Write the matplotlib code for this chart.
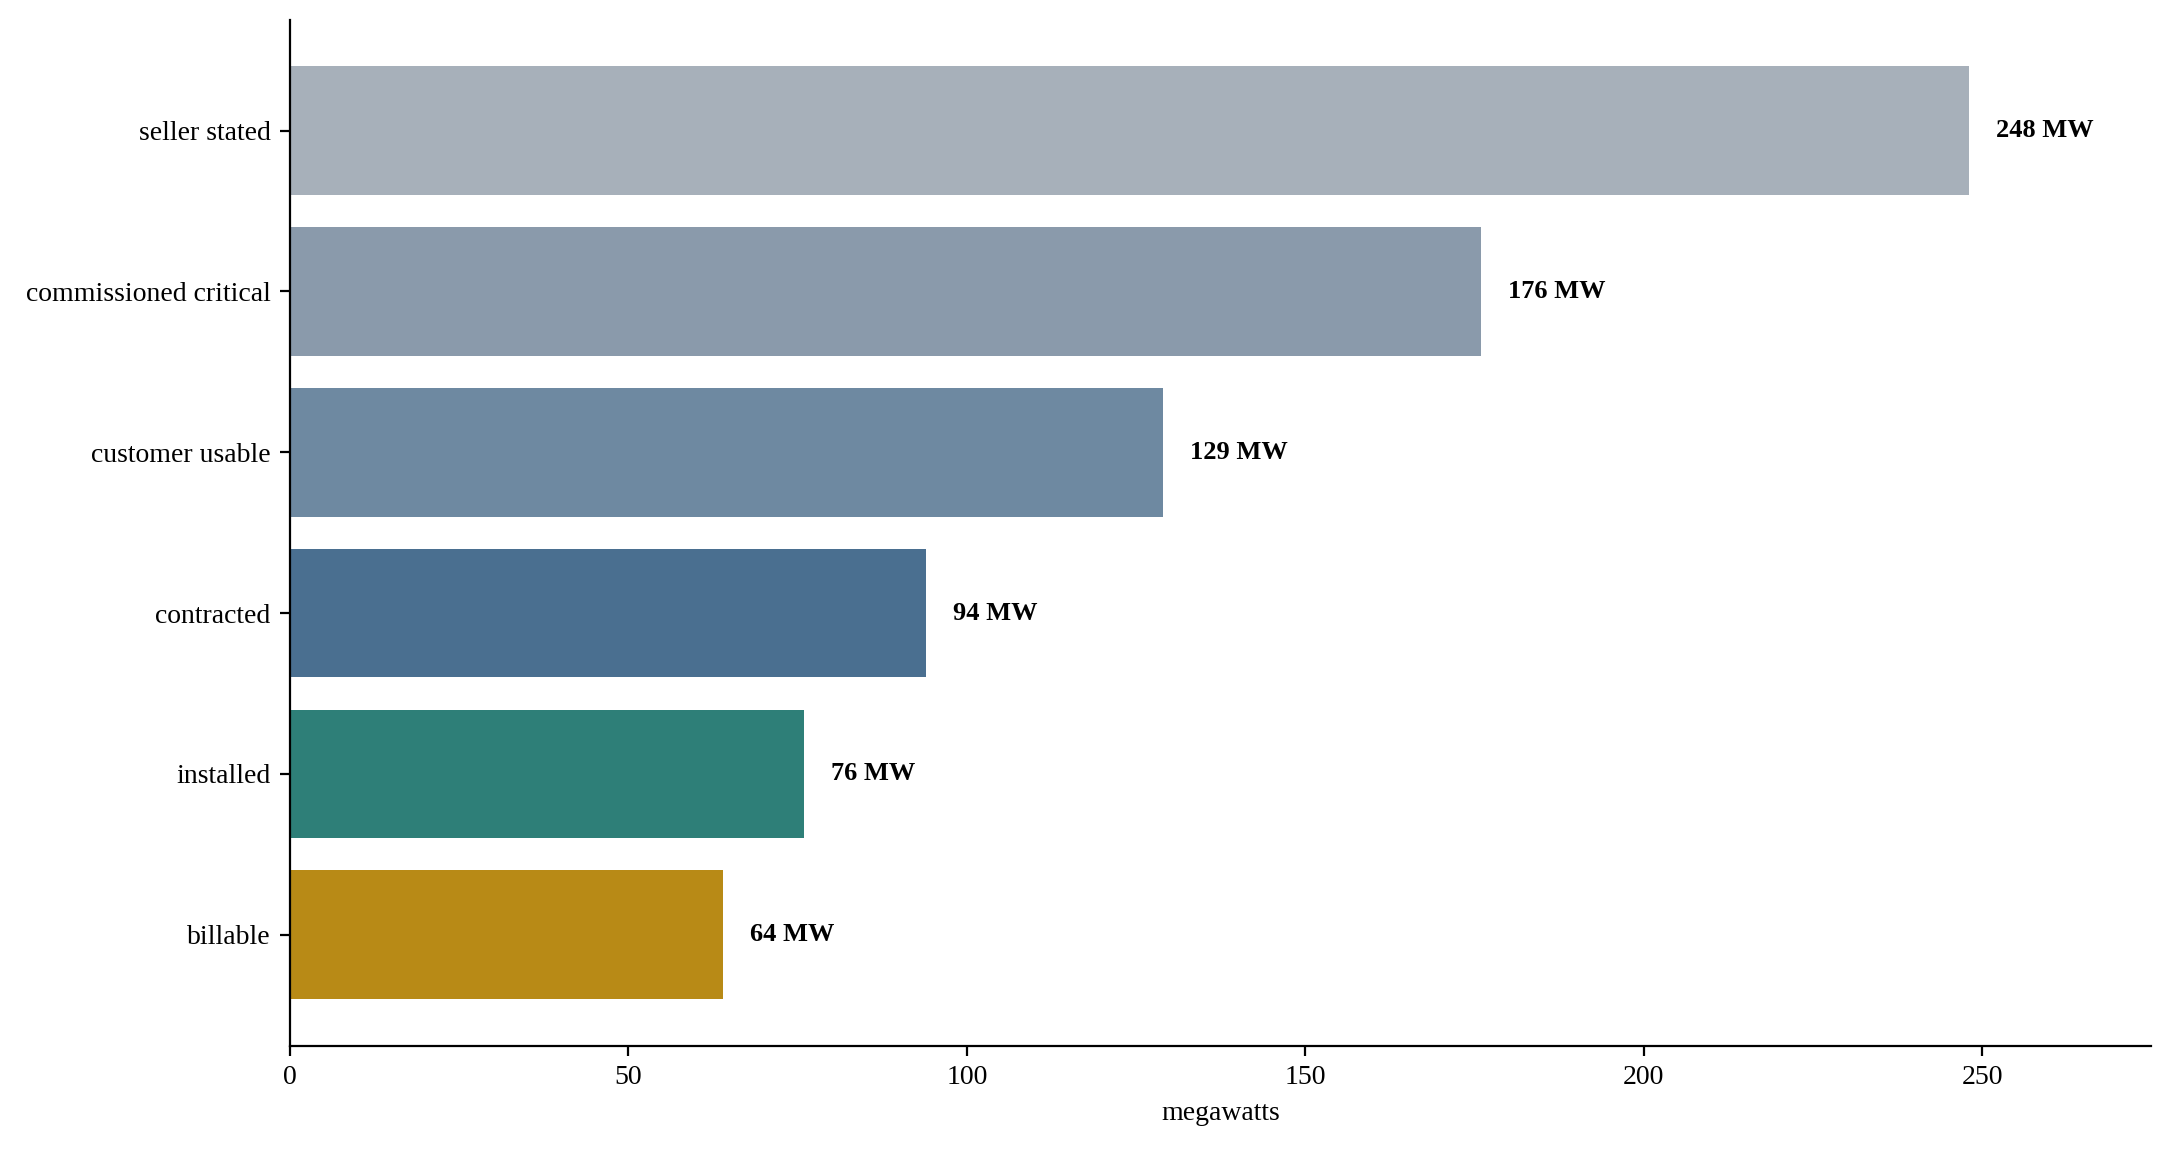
import matplotlib
matplotlib.use("Agg")
import matplotlib.pyplot as plt

plt.rcParams['font.family'] = ['Liberation Serif', 'DejaVu Serif']

# capacity stages, top to bottom
stages = ['seller stated', 'commissioned critical', 'customer usable',
          'contracted', 'installed', 'billable']
megawatts = [248, 176, 129, 94, 76, 64]
bar_colors = ['#a7b0ba', '#8a9aab', '#6e89a1', '#4a6f90', '#2e7f78', '#b88a16']

fig, ax = plt.subplots(figsize=(10.86, 5.765), dpi=200)

ypos = range(len(stages))
ax.barh(ypos, megawatts, height=0.8, color=bar_colors)
ax.set_yticks(list(ypos))
ax.set_yticklabels(stages, fontsize=10)
ax.invert_yaxis()

# value labels to the right of each bar
for y, v in zip(ypos, megawatts):
    ax.text(v + 4, y, f"{v} MW", va='center', ha='left',
            fontsize=9.5, fontweight='bold')

ax.set_xlim(0, 275)
ax.set_xlabel('megawatts', fontsize=10)
ax.tick_params(axis='x', labelsize=10)
ax.spines['top'].set_visible(False)
ax.spines['right'].set_visible(False)

fig.subplots_adjust(left=0.1335, right=0.9905, bottom=0.093, top=0.983)
fig.savefig('out.png', dpi=200)
